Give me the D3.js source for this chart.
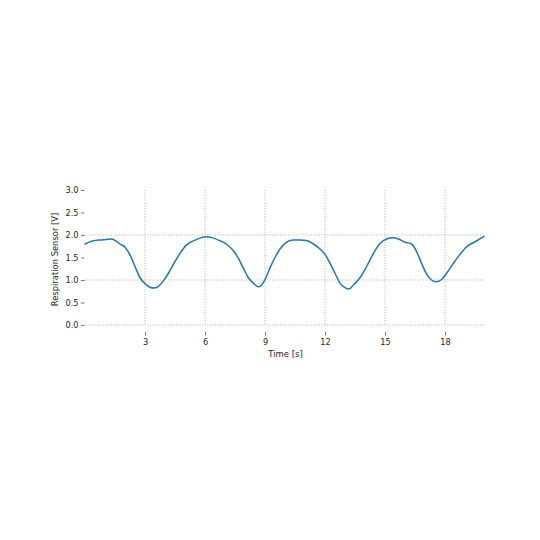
<!DOCTYPE html>
<html><head><meta charset="utf-8">
<script src="https://cdn.jsdelivr.net/npm/d3@7"></script>
<style>body{margin:0;background:#fff}svg{display:block}text{font-family:"DejaVu Sans",sans-serif;fill:#262626}</style>
</head><body><svg id="c" width="540" height="540"></svg>
<script>
const times = [0,0.42,0.75,1.08,1.33,1.5,1.75,2.0,2.25,2.5,2.75,3.0,3.25,3.42,3.67,3.92,4.17,4.42,4.75,5.08,5.42,5.75,6.08,6.42,6.75,6.92,7.17,7.42,7.67,7.92,8.17,8.42,8.67,8.83,9.0,9.25,9.5,9.75,10.08,10.42,10.75,11.08,11.42,11.75,12.0,12.25,12.5,12.75,13.0,13.2,13.42,13.75,14.08,14.42,14.75,15.08,15.42,15.67,16.0,16.33,16.58,16.83,17.08,17.33,17.58,17.83,18.08,18.42,18.75,19.08,19.5,19.95];
const volts = [1.80,1.87,1.89,1.90,1.91,1.88,1.80,1.73,1.56,1.30,1.05,0.92,0.84,0.82,0.86,0.98,1.15,1.35,1.59,1.78,1.87,1.93,1.96,1.93,1.87,1.84,1.76,1.65,1.48,1.26,1.05,0.93,0.85,0.89,1.01,1.27,1.50,1.69,1.84,1.89,1.89,1.88,1.80,1.69,1.57,1.37,1.15,0.93,0.83,0.80,0.89,1.05,1.30,1.59,1.81,1.91,1.94,1.91,1.84,1.80,1.63,1.37,1.13,1.00,0.96,1.01,1.15,1.37,1.57,1.74,1.85,1.97];
const xTicks = [3,6,9,12,15,18];
const yTicks = [0,0.5,1,1.5,2,2.5,3];
const yGrid = [0,1,2];

const svg = d3.select("#c");
const x = d3.scaleLinear().domain([0,19.95]).range([85,484]);
const y = d3.scaleLinear().domain([0,3]).range([325,190]);

// grid
svg.append("g").selectAll("line").data(yGrid).join("line")
  .attr("x1",85).attr("x2",484).attr("y1",d=>y(d)).attr("y2",d=>y(d))
  .attr("stroke","#a8a8a8").attr("stroke-width",0.9).attr("stroke-dasharray","1,1.6");
svg.append("g").selectAll("line").data(xTicks).join("line")
  .attr("x1",d=>x(d)).attr("x2",d=>x(d)).attr("y1",190).attr("y2",325)
  .attr("stroke","#a8a8a8").attr("stroke-width",0.9).attr("stroke-dasharray","1,1.6");

// axes
const xAxis = d3.axisBottom(x).tickValues(xTicks).tickFormat(d3.format("d")).tickSize(3.5).tickPadding(3.5);
const gx = svg.append("g").attr("transform","translate(0,332)").call(xAxis);
gx.select(".domain").remove();
gx.selectAll("line").attr("stroke","#555").attr("stroke-width",0.8);
gx.selectAll("text").attr("font-size",8.2).attr("fill","#262626");

const yAxis = d3.axisLeft(y).tickValues(yTicks).tickFormat(d3.format(".1f")).tickSize(3.5).tickPadding(2.5);
const gy = svg.append("g").attr("transform","translate(84.5,0)").call(yAxis);
gy.select(".domain").remove();
gy.selectAll("line").attr("stroke","#555").attr("stroke-width",0.8);
gy.selectAll("text").attr("font-size",8.2).attr("fill","#262626");

// labels
svg.append("text").attr("x",285.5).attr("y",356.5).attr("text-anchor","middle").attr("font-size",8.5).text("Time [s]");
svg.append("text").attr("transform","translate(58,259.5) rotate(-90)").attr("text-anchor","middle").attr("font-size",8.4).text("Respiration Sensor [V]");

// line
const data = times.map((t,i)=>[t,volts[i]]);
svg.append("path").datum(data)
  .attr("fill","none").attr("stroke","#1f77b4").attr("stroke-width",1.5)
  .attr("stroke-linejoin","round").attr("stroke-linecap","round")
  .attr("d", d3.line().x(d=>x(d[0])).y(d=>y(d[1])).curve(d3.curveMonotoneX));
</script></body></html>
